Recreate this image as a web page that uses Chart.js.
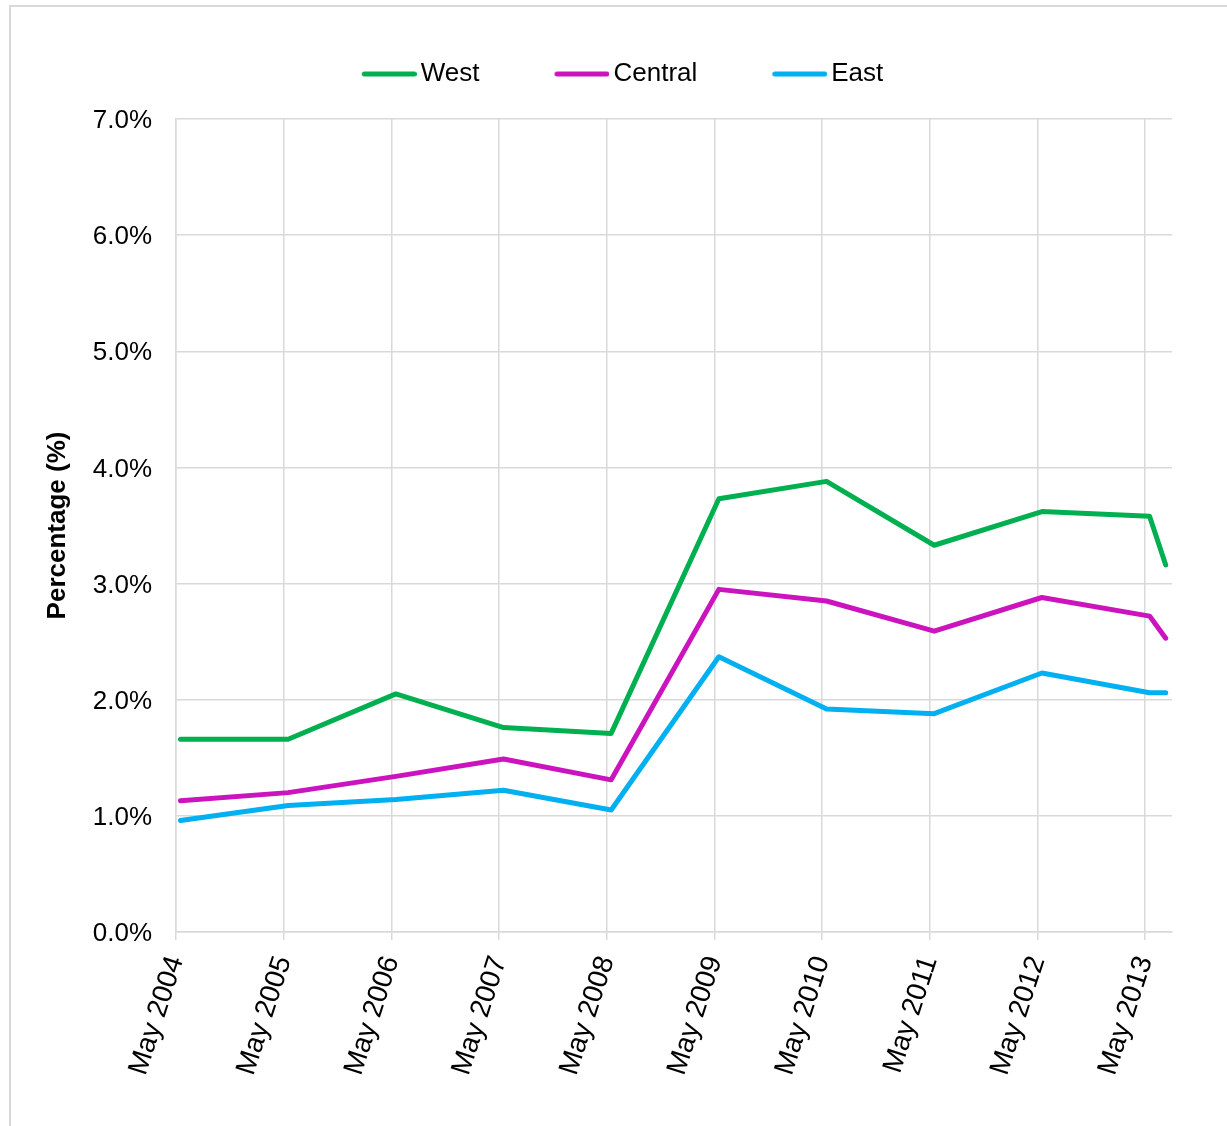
<!DOCTYPE html>
<html>
<head>
<meta charset="utf-8">
<script src="https://cdn.jsdelivr.net/npm/chart.js@4.4.0/dist/chart.umd.min.js"></script>
<style>
  html, body { margin: 0; background: #fff; overflow: hidden; }
  #frame { position: absolute; left: 9px; top: 5px; width: 1240px; height: 1140px; border: 2px solid #d9d9d9; }
  #chart { position: absolute; left: 0; top: 0; }
</style>
</head>
<body>
<div id="frame"></div>
<canvas id="chart" width="1227" height="1126"></canvas>
<script>
var xTickLabels = ['May 2004', 'May 2005', 'May 2006', 'May 2007', 'May 2008',
                   'May 2009', 'May 2010', 'May 2011', 'May 2012', 'May 2013'];
// months after May 2004 (data sits mid-month, last point is July 2013)
var xMonths = [0.5, 12.5, 24.5, 36.5, 48.5, 60.5, 72.5, 84.5, 96.5, 108.5, 110.3];
var west    = [1.66, 1.66, 2.05, 1.76, 1.71, 3.73, 3.88, 3.33, 3.62, 3.58, 3.16];
var central = [1.13, 1.20, 1.34, 1.49, 1.31, 2.95, 2.85, 2.59, 2.88, 2.72, 2.53];
var east    = [0.96, 1.09, 1.14, 1.22, 1.05, 2.37, 1.92, 1.88, 2.23, 2.06, 2.06];

var font = '"Liberation Sans", Arial, sans-serif';
var gridColor = '#d9d9d9';

// short line used as the legend marker
function legendLine(color) {
    var c = document.createElement('canvas');
    c.width = 99;
    c.height = 10;
    var g = c.getContext('2d');
    g.strokeStyle = color;
    g.lineWidth = 5;
    g.lineCap = 'round';
    g.beginPath();
    g.moveTo(46.5, 5);
    g.lineTo(96.5, 5);
    g.stroke();
    return c;
}

function series(label, values, color) {
    return {
        label: label,
        data: values.map(function (v, i) { return { x: xMonths[i], y: v }; }),
        borderColor: color,
        backgroundColor: color,
        borderWidth: 5,
        borderCapStyle: 'round',
        borderJoinStyle: 'round',
        pointRadius: 0,
        pointHoverRadius: 0,
        tension: 0,
        fill: false
    };
}

new Chart(document.getElementById('chart'), {
    type: 'line',
    data: {
        datasets: [
            series('West', west, '#00B050'),
            series('Central', central, '#CC14BE'),
            series('East', east, '#00B0F0')
        ]
    },
    options: {
        responsive: false,
        animation: false,
        devicePixelRatio: 1,
        layout: { padding: { left: 38, right: 55, top: 21, bottom: 0 } },
        plugins: {
            tooltip: { enabled: false },
            // empty spacer between legend and plot
            title: {
                display: true,
                text: '',
                weight: 500,
                padding: 0,
                font: { family: font, size: 20, lineHeight: 1.1 }
            },
            legend: {
                position: 'top',
                labels: {
                    usePointStyle: true,
                    pointStyleWidth: 81,
                    padding: 40,
                    color: '#000',
                    font: { family: font, size: 26 },
                    generateLabels: function (chart) {
                        return chart.data.datasets.map(function (ds, i) {
                            return {
                                text: ds.label,
                                datasetIndex: i,
                                fillStyle: ds.borderColor,
                                strokeStyle: ds.borderColor,
                                lineWidth: 0,
                                hidden: false,
                                fontColor: '#000',
                                pointStyle: legendLine(ds.borderColor)
                            };
                        });
                    }
                }
            }
        },
        scales: {
            x: {
                type: 'linear',
                min: 0,
                max: 111,
                afterBuildTicks: function (s) {
                    s.ticks = xTickLabels.map(function (t, i) { return { value: i * 12 }; });
                },
                afterFit: function (s) { s.height = 194; },
                grid: { color: gridColor, lineWidth: 1.5, tickLength: 8 },
                border: { color: gridColor, width: 1.5 },
                ticks: {
                    autoSkip: false,
                    minRotation: 72,
                    maxRotation: 72,
                    padding: 12,
                    color: '#000',
                    font: { family: font, size: 28 },
                    callback: function (v, i) { return xTickLabels[i]; }
                }
            },
            y: {
                min: 0,
                max: 7,
                afterFit: function (s) { s.width = 138; },
                grid: { color: gridColor, lineWidth: 1.5, drawTicks: false },
                border: { color: gridColor, width: 1.5 },
                ticks: {
                    stepSize: 1,
                    padding: 24,
                    labelOffset: 2,
                    color: '#000',
                    font: { family: font, size: 26 },
                    callback: function (v) { return v.toFixed(1) + '%'; }
                },
                title: {
                    display: true,
                    text: 'Percentage (%)',
                    color: '#000',
                    font: { family: font, size: 26, weight: 'bold' }
                }
            }
        }
    }
});
</script>
</body>
</html>
